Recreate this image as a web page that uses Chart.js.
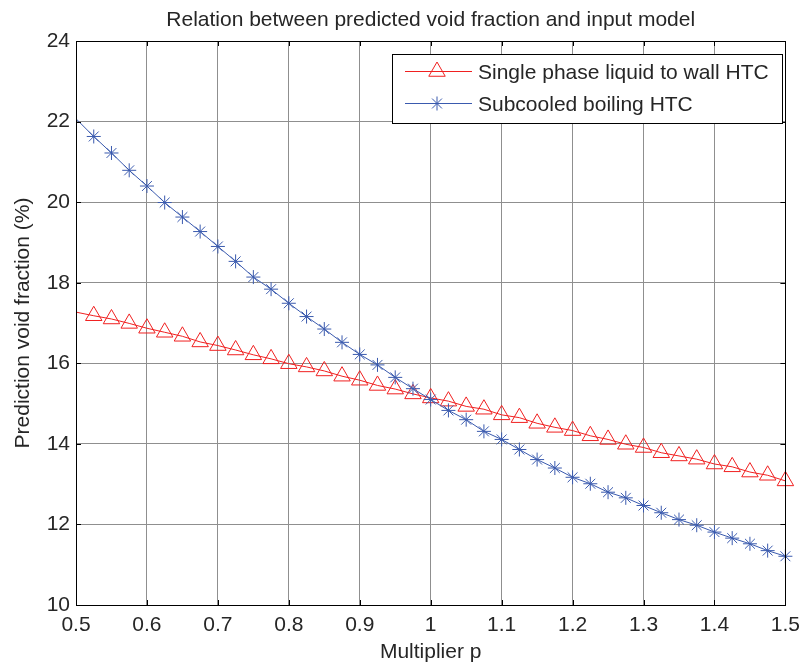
<!DOCTYPE html>
<html>
<head>
<meta charset="utf-8">
<script src="https://cdn.jsdelivr.net/npm/chart.js@4.4.0/dist/chart.umd.min.js"></script>
<style>
  body { margin: 0; background: #fff; }
  #wrap { width: 808px; height: 666px; }
</style>
</head>
<body>
<div id="wrap"><canvas id="myChart" width="808" height="666"></canvas></div>
<script>
// textes
let chartTitle = "Relation between predicted void fraction and input model";
let xLabel = "Multiplier p";
let yLabel = "Prediction void fraction (%)";
let seriesNames = ["Single phase liquid to wall HTC", "Subcooled boiling HTC"];

// valeurs
let multiplier = [0.5, 0.525, 0.55, 0.575, 0.6, 0.625, 0.65, 0.675, 0.7, 0.725,
  0.75, 0.775, 0.8, 0.825, 0.85, 0.875, 0.9, 0.925, 0.95, 0.975,
  1.0, 1.025, 1.05, 1.075, 1.1, 1.125, 1.15, 1.175, 1.2, 1.225,
  1.25, 1.275, 1.3, 1.325, 1.35, 1.375, 1.4, 1.425, 1.45, 1.475, 1.5];
let singlePhase = [17.27, 17.18, 17.10, 16.99, 16.87, 16.77, 16.67, 16.53, 16.44, 16.33,
  16.21, 16.11, 15.99, 15.91, 15.81, 15.68, 15.58, 15.45, 15.36, 15.24,
  15.14, 15.06, 14.93, 14.86, 14.72, 14.65, 14.51, 14.41, 14.33, 14.20,
  14.11, 13.99, 13.91, 13.78, 13.70, 13.62, 13.50, 13.43, 13.30, 13.22, 13.08];
let subcooled = [22.07, 21.63, 21.22, 20.79, 20.40, 19.99, 19.63, 19.27, 18.90, 18.53,
  18.14, 17.84, 17.49, 17.16, 16.85, 16.52, 16.22, 15.96, 15.65, 15.37,
  15.10, 14.83, 14.60, 14.31, 14.11, 13.86, 13.61, 13.40, 13.17, 13.01,
  12.80, 12.66, 12.47, 12.29, 12.12, 11.98, 11.81, 11.66, 11.52, 11.35, 11.21];

let xTicks = [0.5, 0.6, 0.7, 0.8, 0.9, 1, 1.1, 1.2, 1.3, 1.4, 1.5];
let yTicks = [10, 12, 14, 16, 18, 20, 22, 24];

const fontFamily = '"Liberation Sans", Arial, sans-serif';
const textColor = '#262626';
const redColor = '#f02020';
const blueColor = '#3a5aae';
const gridColor = '#8f8f8f';

function toPoints(ys) {
  return multiplier.map((x, i) => ({ x: x, y: ys[i] }));
}

// cadre, petits traits, titre et legende
const matlabBox = {
  id: 'matlabBox',
  afterDraw(chart) {
    const ctx = chart.ctx;
    const a = chart.chartArea;
    const xs = chart.scales.x;
    const ys = chart.scales.y;
    ctx.save();
    ctx.strokeStyle = '#000';
    ctx.lineWidth = 1;
    ctx.beginPath();
    xTicks.forEach(v => {
      const px = Math.round(xs.getPixelForValue(v)) + 0.5;
      ctx.moveTo(px, a.bottom); ctx.lineTo(px, a.bottom - 5);
      ctx.moveTo(px, a.top); ctx.lineTo(px, a.top + 5);
    });
    yTicks.forEach(v => {
      const py = Math.round(ys.getPixelForValue(v)) + 0.5;
      ctx.moveTo(a.left, py); ctx.lineTo(a.left + 5, py);
      ctx.moveTo(a.right, py); ctx.lineTo(a.right - 5, py);
    });
    ctx.stroke();
    ctx.strokeRect(Math.round(a.left) + 0.5, Math.round(a.top) + 0.5,
      Math.round(a.right - a.left), Math.round(a.bottom - a.top));

    // titre
    ctx.fillStyle = textColor;
    ctx.font = '21px ' + fontFamily;
    ctx.textAlign = 'center';
    ctx.textBaseline = 'alphabetic';
    ctx.fillText(chartTitle, (a.left + a.right) / 2, 26);

    // legende
    const bx = 392, by = 54, bw = 390, bh = 69;
    ctx.fillStyle = '#fff';
    ctx.fillRect(bx, by, bw, bh);
    ctx.strokeStyle = '#000';
    ctx.strokeRect(bx + 0.5, by + 0.5, bw, bh);
    const rows = [71, 103];
    chart.data.datasets.forEach((ds, i) => {
      const y = rows[i] + 0.5;
      ctx.strokeStyle = ds.borderColor;
      ctx.lineWidth = 1;
      ctx.beginPath();
      ctx.moveTo(405, y); ctx.lineTo(472, y);
      ctx.stroke();
      ctx.fillStyle = 'rgba(0,0,0,0)';
      Chart.helpers.drawPoint(ctx, {
        pointStyle: ds.pointStyle, radius: ds.legendRadius, rotation: 0, borderWidth: 1
      }, 437, y);
      ctx.fillStyle = textColor;
      ctx.font = '21px ' + fontFamily;
      ctx.textAlign = 'left';
      ctx.textBaseline = 'middle';
      ctx.fillText(seriesNames[i], 478, rows[i] + 2);
    });
    ctx.restore();
  }
};

const ctx = document.getElementById('myChart');
let myChart = new Chart(ctx, {
  type: 'line',
  data: {
    datasets: [
      {
        label: seriesNames[0],
        data: toPoints(singlePhase),
        borderColor: redColor,
        borderWidth: 1,
        pointStyle: 'triangle',
        legendRadius: 9.5,
        pointRadius: c => (c.dataIndex === 0 ? 0 : 9.5),
        pointBorderColor: redColor,
        pointBackgroundColor: 'rgba(0,0,0,0)',
        pointBorderWidth: 1,
        tension: 0,
        clip: false,
        order: 1
      },
      {
        label: seriesNames[1],
        data: toPoints(subcooled),
        borderColor: blueColor,
        borderWidth: 1,
        pointStyle: 'star',
        legendRadius: 7,
        pointRadius: c => (c.dataIndex === 0 ? 0 : 7),
        pointBorderColor: blueColor,
        pointBackgroundColor: 'rgba(0,0,0,0)',
        pointBorderWidth: 1,
        tension: 0,
        clip: false,
        order: 0
      }
    ]
  },
  options: {
    responsive: false,
    animation: false,
    events: [],
    layout: { padding: { top: 41, right: 17, left: 0, bottom: 0 } },
    plugins: {
      legend: { display: false },
      tooltip: { enabled: false },
      title: { display: false }
    },
    scales: {
      x: {
        type: 'linear',
        min: 0.5,
        max: 1.5,
        afterFit: s => { s.height = 61; },
        afterBuildTicks: s => { s.ticks = xTicks.map(v => ({ value: v })); },
        grid: { color: gridColor, lineWidth: 1, drawTicks: false },
        border: { display: true, color: '#000' },
        ticks: {
          padding: 8,
          color: textColor,
          font: { family: fontFamily, size: 21 },
          maxRotation: 0,
          callback: v => String(Number(v.toFixed(1)))
        },
        title: {
          display: true,
          text: xLabel,
          color: textColor,
          font: { family: fontFamily, size: 21 },
          padding: { top: 0, bottom: 1 }
        }
      },
      y: {
        type: 'linear',
        min: 10,
        max: 24,
        afterFit: s => { s.width = 76; },
        afterBuildTicks: s => { s.ticks = yTicks.map(v => ({ value: v })); },
        grid: { color: gridColor, lineWidth: 1, drawTicks: false },
        border: { display: true, color: '#000' },
        ticks: {
          padding: 6,
          color: textColor,
          font: { family: fontFamily, size: 21 },
          callback: v => String(v)
        },
        title: {
          display: true,
          text: yLabel,
          color: textColor,
          font: { family: fontFamily, size: 21 },
          padding: { top: 11, bottom: 0 }
        }
      }
    }
  },
  plugins: [matlabBox]
});
</script>
</body>
</html>
